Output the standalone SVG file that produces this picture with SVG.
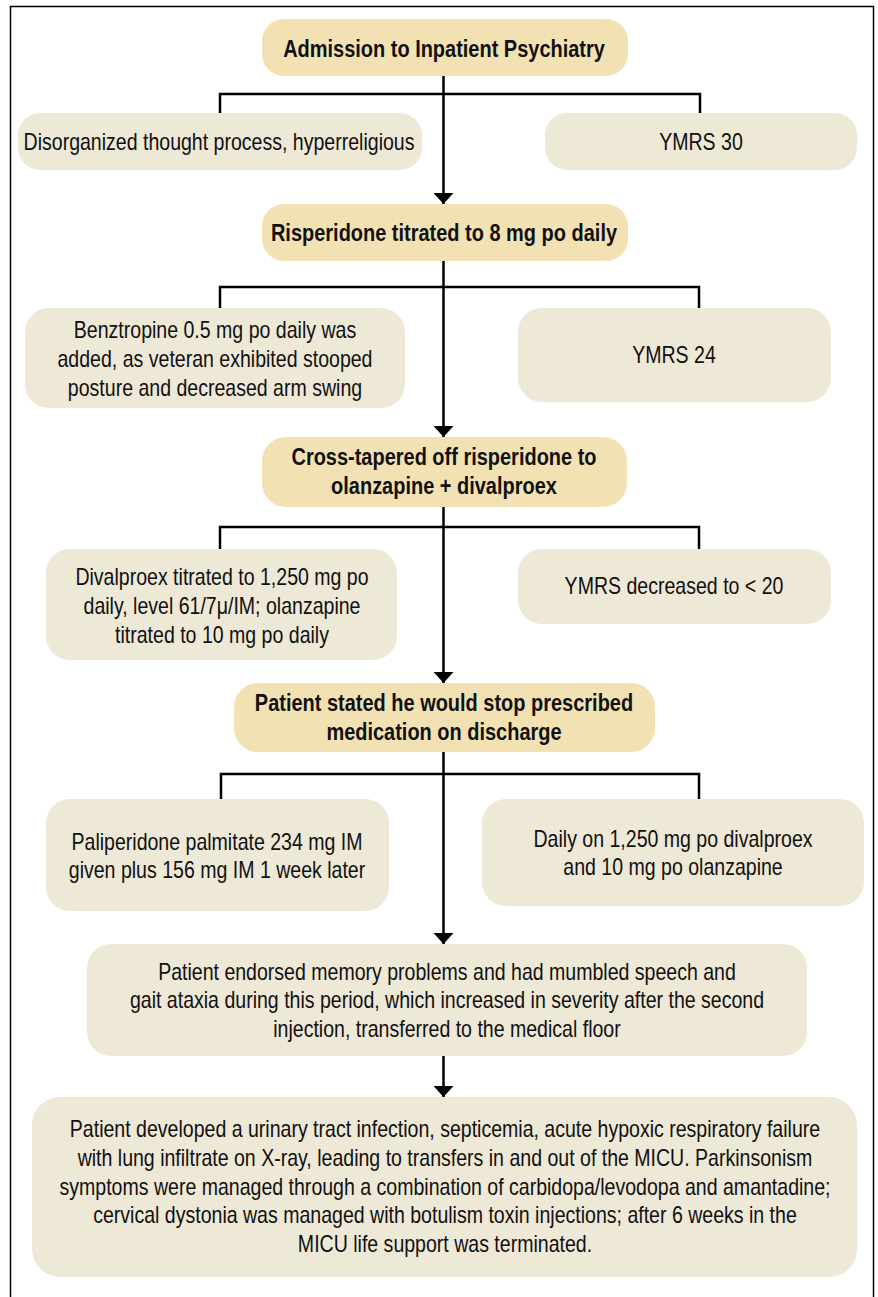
<svg xmlns="http://www.w3.org/2000/svg" width="878" height="1297" viewBox="0 0 878 1297">
<defs>
<marker id="ah" markerUnits="userSpaceOnUse" markerWidth="11" markerHeight="20" viewBox="0 0 11 20" refX="11" refY="10" orient="auto">
<path d="M0,0 L11,10 L0,20 z" fill="#000"/>
</marker>
<style>
.main{fill:#f2e2b3}
.sub{fill:#eee8d7}
.t{font-family:"Liberation Sans",Arial,sans-serif;font-size:23px;fill:#111;text-anchor:middle;transform-box:fill-box;transform-origin:center;transform:scaleX(0.85)}
.b{font-weight:bold;font-size:23.5px;transform:scaleX(0.85)}
.c{fill:none;stroke:#000;stroke-width:2.5}
</style>
</defs>
<rect x="0" y="0" width="878" height="1297" fill="#fff"/>
<rect x="10.5" y="6.5" width="863" height="1300" fill="none" stroke="#000" stroke-width="1.5"/>
<g id="connectors">
<path class="c" d="M443.5,76 V204" marker-end="url(#ah)"/>
<path class="c" d="M220,113 V94 H700 V113"/>
<path class="c" d="M443.5,261 V437" marker-end="url(#ah)"/>
<path class="c" d="M220,308 V287 H699 V308"/>
<path class="c" d="M443.5,507 V683" marker-end="url(#ah)"/>
<path class="c" d="M220,549 V527 H699 V549"/>
<path class="c" d="M443.5,752 V944" marker-end="url(#ah)"/>
<path class="c" d="M221,799 V774 H699 V799"/>
<path class="c" d="M443.5,1056 V1097" marker-end="url(#ah)"/>
</g>
<g id="n1"><rect class="main" x="262" y="19" width="366" height="57" rx="22"/><text class="t b" x="444" y="57">Admission to Inpatient Psychiatry</text></g>
<g id="n1a"><rect class="sub" x="18" y="113" width="404" height="57" rx="22"/><text class="t" x="219" y="150">Disorganized thought process, hyperreligious</text></g>
<g id="n1b"><rect class="sub" x="545" y="113" width="312" height="57" rx="22"/><text class="t" x="701" y="150">YMRS 30</text></g>
<g id="n2"><rect class="main" x="262" y="204" width="366" height="57" rx="22"/><text class="t b" x="444" y="241">Risperidone titrated to 8 mg po daily</text></g>
<g id="n2a"><rect class="sub" x="25" y="308" width="380" height="100" rx="24"/><text class="t" x="215"><tspan x="215" y="338">Benztropine 0.5 mg po daily was</tspan><tspan x="215" y="367">added, as veteran exhibited stooped</tspan><tspan x="215" y="396">posture and decreased arm swing</tspan></text></g>
<g id="n2b"><rect class="sub" x="518" y="308" width="313" height="94" rx="24"/><text class="t" x="674" y="363">YMRS 24</text></g>
<g id="n3"><rect class="main" x="262" y="437" width="365" height="70" rx="24"/><text class="t b" x="444"><tspan x="444" y="465">Cross-tapered off risperidone to</tspan><tspan x="444" y="494">olanzapine + divalproex</tspan></text></g>
<g id="n3a"><rect class="sub" x="46" y="549" width="351" height="111" rx="24"/><text class="t" x="222"><tspan x="222" y="585">Divalproex titrated to 1,250 mg po</tspan><tspan x="222" y="614">daily, level 61/7μ/IM; olanzapine</tspan><tspan x="222" y="643">titrated to 10 mg po daily</tspan></text></g>
<g id="n3b"><rect class="sub" x="518" y="549" width="313" height="75" rx="24"/><text class="t" x="674" y="594">YMRS decreased to &lt; 20</text></g>
<g id="n4"><rect class="main" x="234" y="683" width="421" height="69" rx="24"/><text class="t b" x="444"><tspan x="444" y="711">Patient stated he would stop prescribed</tspan><tspan x="444" y="740">medication on discharge</tspan></text></g>
<g id="n4a"><rect class="sub" x="46" y="799" width="343" height="112" rx="24"/><text class="t" x="217"><tspan x="217" y="850">Paliperidone palmitate 234 mg IM</tspan><tspan x="217" y="878">given plus 156 mg IM 1 week later</tspan></text></g>
<g id="n4b"><rect class="sub" x="482" y="799" width="382" height="107" rx="24"/><text class="t" x="673"><tspan x="673" y="847">Daily on 1,250 mg po divalproex</tspan><tspan x="673" y="875">and 10 mg po olanzapine</tspan></text></g>
<g id="n5"><rect class="sub" x="87" y="944" width="720" height="112" rx="24"/><text class="t" x="447"><tspan x="447" y="980">Patient endorsed memory problems and had mumbled speech and</tspan><tspan x="447" y="1008">gait ataxia during this period, which increased in severity after the second</tspan><tspan x="447" y="1037">injection, transferred to the medical floor</tspan></text></g>
<g id="n6"><rect class="sub" x="32" y="1097" width="825" height="180" rx="28"/><text class="t" x="445"><tspan x="445" y="1137">Patient developed a urinary tract infection, septicemia, acute hypoxic respiratory failure</tspan><tspan x="445" y="1166">with lung infiltrate on X-ray, leading to transfers in and out of the MICU. Parkinsonism</tspan><tspan x="445" y="1195">symptoms were managed through a combination of carbidopa/levodopa and amantadine;</tspan><tspan x="445" y="1223">cervical dystonia was managed with botulism toxin injections; after 6 weeks in the</tspan><tspan x="445" y="1252">MICU life support was terminated.</tspan></text></g>
</svg>
